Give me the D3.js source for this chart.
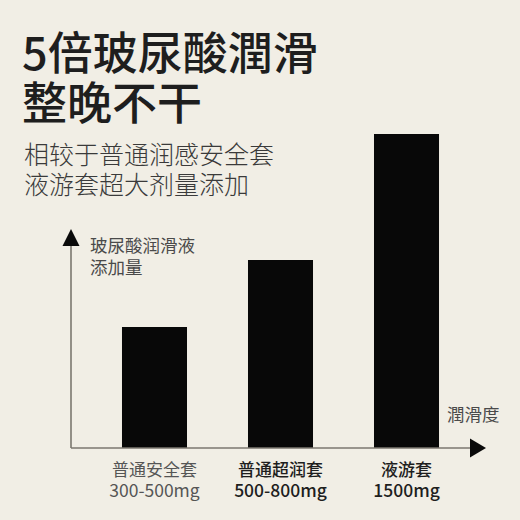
<!DOCTYPE html>
<html>
<head>
<meta charset="utf-8">
<script src="https://cdn.jsdelivr.net/npm/d3@7"></script>
<style>
    body { margin: 0; background: #f1eee5; }
    svg { display: block; }
    text { font-family: "Noto Sans CJK SC", "Noto Sans", sans-serif; }
</style>
</head>
<body>
<main></main>
<script>
// chart values
const categories = ["普通安全套", "普通超润套", "液游套"];
const doses = ["300-500mg", "500-800mg", "1500mg"];
const lubricity = [121, 188, 314];
const highlight = [false, true, true];

const titleLines = ["5倍玻尿酸潤滑", "整晚不干"];
const subtitleLines = ["相较于普通润感安全套", "液游套超大剂量添加"];
const yLabelLines = ["玻尿酸润滑液", "添加量"];
const xLabel = "潤滑度";

const svgSize = {
    width: 520,
    height: 520
};

const plot = {
    left: 71,
    bottom: 448,
    top: 128,
    right: 500
};

const createCanvas = () => {
    return d3.select("main")
            .append("svg")
            .attr("width", svgSize.width)
            .attr("height", svgSize.height);
};

const createHeader = (svg) => {
    svg.append("rect")
        .attr("width", svgSize.width)
        .attr("height", svgSize.height)
        .attr("fill", "#f1eee5");

    svg.selectAll(".title")
        .data(titleLines)
        .enter()
        .append("text")
        .attr("class", "title")
        .attr("x", 22)
        .attr("y", (d, i) => 70 + i * 50)
        .attr("font-size", 45)
        .attr("font-weight", 500)
        .attr("fill", "#1e1e1e")
        .text(d => d);

    svg.selectAll(".subtitle")
        .data(subtitleLines)
        .enter()
        .append("text")
        .attr("class", "subtitle")
        .attr("x", 24)
        .attr("y", (d, i) => 164 + i * 30)
        .attr("font-size", 25)
        .attr("font-weight", 300)
        .attr("fill", "#3a3a3a")
        .text(d => d);
};

const defineScales = () => {
    const xScale = d3.scaleBand()
                    .domain(categories)
                    .range([61, plot.right])
                    .paddingInner(0.484)
                    .paddingOuter(0.484);

    const yScale = d3.scaleLinear()
                    .domain([0, 320])
                    .range([plot.bottom, plot.top]);

    return {xScale, yScale};
};

const createBars = (svg, scales) => {
    svg.selectAll(".bar")
        .data(lubricity)
        .enter()
        .append("rect")
        .attr("class", "bar")
        .attr("x", (d, i) => scales.xScale(categories[i]))
        .attr("y", d => scales.yScale(d))
        .attr("width", scales.xScale.bandwidth())
        .attr("height", d => plot.bottom - scales.yScale(d))
        .attr("fill", "#080808");
};

const createAxes = (svg) => {
    const axisColor = "#7b776f";

    // y axis with arrow
    svg.append("line")
        .attr("x1", plot.left).attr("x2", plot.left)
        .attr("y1", 244).attr("y2", plot.bottom)
        .attr("stroke", axisColor)
        .attr("stroke-width", 1.6);
    svg.append("path")
        .attr("d", `M${plot.left},229 L${plot.left + 8.5},246 L${plot.left - 8.5},246 Z`)
        .attr("fill", "#0a0a0a");

    // x axis with arrow
    svg.append("line")
        .attr("x1", plot.left).attr("x2", 472)
        .attr("y1", plot.bottom).attr("y2", plot.bottom)
        .attr("stroke", axisColor)
        .attr("stroke-width", 1.6);
    svg.append("path")
        .attr("d", `M486,${plot.bottom} L470,${plot.bottom - 9.5} L470,${plot.bottom + 9.5} Z`)
        .attr("fill", "#0a0a0a");

    svg.selectAll(".ylabel")
        .data(yLabelLines)
        .enter()
        .append("text")
        .attr("class", "ylabel")
        .attr("x", 90)
        .attr("y", (d, i) => 252 + i * 22)
        .attr("font-size", 17.5)
        .attr("fill", "#4a4a4a")
        .text(d => d);

    svg.append("text")
        .attr("x", 447)
        .attr("y", 421)
        .attr("font-size", 17.5)
        .attr("fill", "#4a4a4a")
        .text(xLabel);
};

const createCategoryLabels = (svg, scales) => {
    const center = (i) => scales.xScale(categories[i]) + scales.xScale.bandwidth() / 2;

    svg.selectAll(".cat")
        .data(categories)
        .enter()
        .append("text")
        .attr("class", "cat")
        .attr("x", (d, i) => center(i))
        .attr("y", 476)
        .attr("text-anchor", "middle")
        .attr("font-size", 17)
        .attr("font-weight", (d, i) => highlight[i] ? 500 : 400)
        .attr("fill", (d, i) => highlight[i] ? "#1e1e1e" : "#555")
        .text(d => d);

    svg.selectAll(".dose")
        .data(doses)
        .enter()
        .append("text")
        .attr("class", "dose")
        .attr("x", (d, i) => center(i))
        .attr("y", 497)
        .attr("text-anchor", "middle")
        .attr("font-size", 17.5)
        .attr("font-weight", (d, i) => highlight[i] ? 500 : 400)
        .attr("fill", (d, i) => highlight[i] ? "#1e1e1e" : "#555")
        .text(d => d);
};

const driver = () => {
    const svg = createCanvas();
    createHeader(svg);
    const scales = defineScales();
    createBars(svg, scales);
    createAxes(svg);
    createCategoryLabels(svg, scales);
};

driver();
</script>
</body>
</html>
